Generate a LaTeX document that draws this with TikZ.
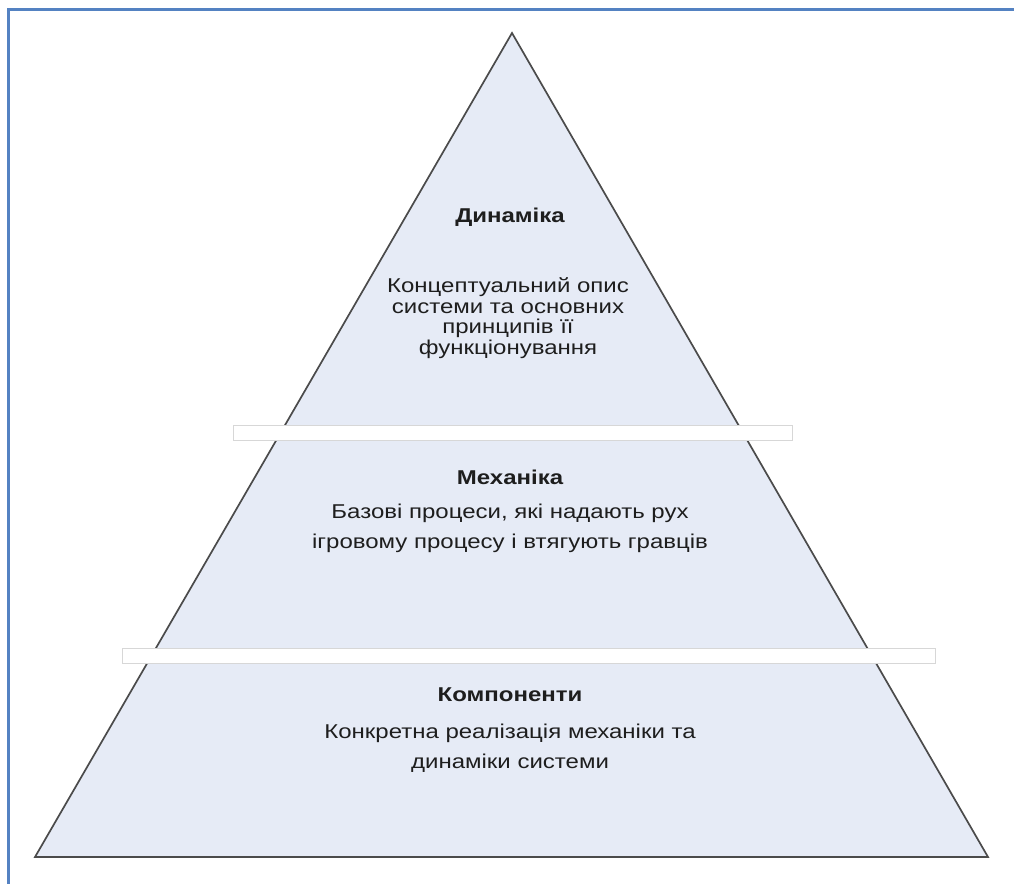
\documentclass[tikz,border=0pt]{standalone}
\usepackage{fontspec}
\setmainfont{Liberation Sans}[FakeStretch=1.2]

\definecolor{pyrfill}{RGB}{230,235,246}
\definecolor{pyredge}{RGB}{75,75,75}
\definecolor{gapedge}{RGB}{215,215,215}
\definecolor{frameblue}{RGB}{84,130,194}
\definecolor{txt}{RGB}{30,30,30}

\tikzset{
  pyramid/.style={fill=pyrfill, draw=pyredge, line width=1.7pt, line join=miter},
  gapstrip/.style={fill=white, draw=gapedge, line width=0.8pt},
  leveltitle/.style={inner sep=0pt, text=txt, font=\bfseries\fontsize{20}{24}\selectfont},
  leveltext/.style={inner sep=0pt, text=txt, align=center},
}

\begin{document}
\begin{tikzpicture}[x=1pt,y=-1pt]
            \useasboundingbox (0,0) rectangle (1014,884);
            \fill[white] (0,0) rectangle (1014,884);

            % frame
            \draw[frameblue, line width=2.6pt] (1014,9.5) -- (8.5,9.5) -- (8.5,884);

            % pyramid
            \coordinate (top) at (512,33);
            \coordinate (left) at (35,857);
            \coordinate (right) at (988,857);
            \filldraw[pyramid] (top) -- (left) -- (right) -- cycle;

            % strips between the levels
            \filldraw[gapstrip] (233,425) rectangle (792,440);
            \filldraw[gapstrip] (122,648) rectangle (935,663);

            % Dynamics
            \node[leveltitle] (dyn) at (510,217) {Динаміка};
            \node[leveltext, font=\fontsize{20}{20.5}\selectfont] (dyntext) at (508,318)
                {Концептуальний опис\\системи та основних\\принципів її\\функціонування};

            % Mechanics
            \node[leveltitle] (mech) at (510,477) {Механіка};
            \node[leveltext, font=\fontsize{20}{30}\selectfont] (mechtext) at (510,528)
                {Базові процеси, які надають рух\\ігровому процесу і втягують гравців};

            % Components
            \node[leveltitle] (comp) at (510,695) {Компоненти};
            \node[leveltext, font=\fontsize{20}{30}\selectfont] (comptext) at (510,748)
                {Конкретна реалізація механіки та\\динаміки системи};
        \end{tikzpicture}
\end{document}
